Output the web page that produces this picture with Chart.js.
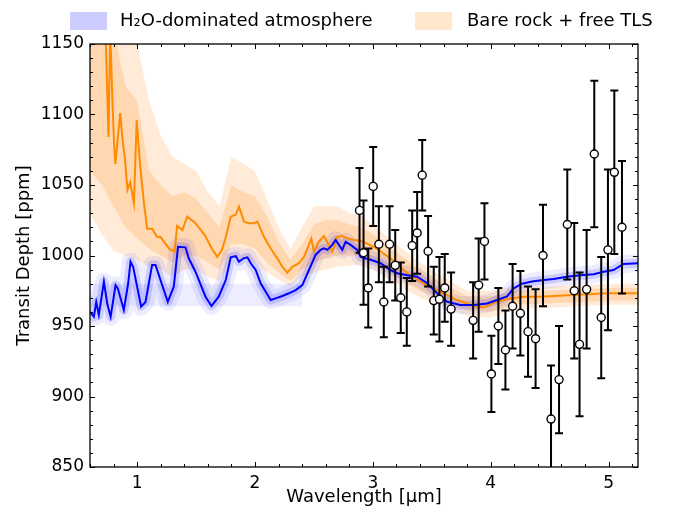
<!DOCTYPE html>
<html>
<head>
<meta charset="utf-8">
<script src="https://cdn.jsdelivr.net/npm/chart.js@4.4.1/dist/chart.umd.min.js"></script>
<style>
  body { margin: 0; background: #fff; }
</style>
</head>
<body>
<canvas id="chart" width="680" height="517"></canvas>
<script>
// observed transit depths [ppm] and 1-sigma errors
const obsWave = [2.887, 2.921, 2.961, 3.003, 3.051, 3.093, 3.142, 3.19, 3.237, 3.288,
  3.334, 3.376, 3.419, 3.469, 3.517, 3.565, 3.61, 3.664, 3.851, 3.898,
  3.947, 4.006, 4.065, 4.125, 4.186, 4.252, 4.317, 4.381, 4.444, 4.512,
  4.58, 4.65, 4.709, 4.754, 4.814, 4.879, 4.938, 4.995, 5.049, 5.114];
const obsDepth = [1032, 1002, 977, 1049, 1008, 967, 1008, 993, 970, 960,
  1007, 1016, 1057, 1003, 968, 969, 977, 962, 954, 979,
  1010, 916, 950, 933, 964, 959, 946, 941, 1000, 884,
  912, 1022, 975, 937, 976, 1072, 956, 1004, 1059, 1020];
const obsErr = [30, 37, 28, 28, 27, 25, 27, 25, 25, 24,
  25, 29, 25, 25, 24, 30, 24, 26, 27, 33,
  27, 27, 27, 28, 30, 30, 32, 35, 36, 38,
  38, 39, 48, 51, 42, 52, 43, 57, 58, 47];

// H2O-dominated atmosphere model
const blueWave = [0.6, 0.633, 0.653, 0.675, 0.718, 0.746, 0.775, 0.817, 0.836, 0.887,
  0.924, 0.944, 0.966, 1.0, 1.034, 1.071, 1.127, 1.156, 1.198, 1.26,
  1.311, 1.347, 1.41, 1.438, 1.495, 1.58, 1.631, 1.692, 1.752, 1.794,
  1.837, 1.864, 1.902, 1.936, 1.964, 2.006, 2.048, 2.091, 2.133, 2.175,
  2.232, 2.288, 2.345, 2.402, 2.458, 2.514, 2.557, 2.585, 2.614, 2.656,
  2.684, 2.712, 2.741, 2.769, 2.811, 2.868, 2.896, 2.981, 3.065, 3.15,
  3.207, 3.292, 3.376, 3.461, 3.546, 3.631, 3.743, 3.856, 3.969, 4.054,
  4.139, 4.195, 4.266, 4.351, 4.449, 4.534, 4.647, 4.76, 4.873, 4.958,
  5.042, 5.127, 5.25];
const blueDepth = [960, 956.6, 967, 957.8, 981.4, 966, 956.6, 979, 976.7, 961.3,
  980.3, 995.6, 992, 977.9, 963.7, 967, 993.3, 993.3, 982.6, 967.2,
  977.9, 1006.2, 1005.8, 998, 988.5, 970.8, 964.2, 970.8, 982.6, 998.7,
  999.6, 995.6, 998, 998.7, 994.5, 989.7, 980.3, 974.3, 968.4, 969.6,
  971.3, 973.2, 975.5, 979, 989.7, 1000.4, 1004, 1005.1, 1004, 1007.5,
  1011, 1007.5, 1004, 1009.8, 1007.5, 1004, 999, 997, 994.5, 989.7,
  987.4, 986, 985, 980.3, 973.2, 967.2, 964.9, 964.9, 966, 968.4,
  971, 976.7, 980, 981.5, 982.6, 983.4, 985, 986, 986.7, 988.5,
  989.7, 994, 994.5];
const blueFloorWave = [0.6, 2.4];
const blueFloorHi = [980, 980];
const blueFloorLo = [964, 964];

// bare rock + free TLS model
const orangeWave = [0.6, 0.7, 0.735, 0.757, 0.772, 0.79, 0.804, 0.815, 0.856, 0.876,
  0.895, 0.918, 0.941, 0.973, 0.996, 1.024, 1.058, 1.085, 1.127, 1.168,
  1.2, 1.225, 1.276, 1.318, 1.339, 1.383, 1.425, 1.489, 1.574, 1.633,
  1.68, 1.72, 1.752, 1.794, 1.837, 1.864, 1.907, 1.949, 1.992, 2.02,
  2.076, 2.133, 2.19, 2.232, 2.274, 2.317, 2.373, 2.415, 2.458, 2.478,
  2.5, 2.542, 2.585, 2.627, 2.656, 2.698, 2.741, 2.783, 2.839, 2.896,
  3.008, 3.15, 3.292, 3.432, 3.574, 3.715, 3.856, 3.941, 4.025, 4.139,
  4.28, 4.421, 4.703, 4.986, 5.25];
const orangeDepth = [1200, 1175, 1150, 1084, 1160, 1110, 1080, 1065, 1101, 1082,
  1070, 1046.5, 1052, 1037, 1096, 1065, 1037, 1019, 1019, 1013.3,
  1013, 1010, 1004.5, 1002.7, 1021, 1018, 1027.5, 1023.5, 1014.5, 1005,
  999, 1004, 1013, 1027.5, 1029, 1034.6, 1024, 1022.8, 1022.8, 1024,
  1013.3, 1005, 998, 992, 987.8, 992, 994.5, 999, 1007.5, 1012,
  1002.7, 1009.8, 1013.8, 1007.5, 1002.7, 1013.3, 1013.8, 1012.2, 1011, 1010.5,
  1006.2, 998, 987.4, 980.3, 974.3, 968.4, 964.4, 963.2, 966.5, 968.9,
  970.8, 970.8, 972, 973.2, 973.2];
const orangeBandWave = [0.6, 0.7, 0.8, 0.9, 1.0, 1.1, 1.2, 1.3, 1.4, 1.5,
  1.6, 1.7, 1.8, 1.9, 2.0, 2.1, 2.2, 2.3, 2.4, 2.5,
  2.6, 2.7, 2.8, 2.9, 3.0, 3.2, 3.4, 3.6, 3.8, 4.0,
  4.2, 4.5, 5.0, 5.25];
const orangeHi2 = [1200, 1200, 1200, 1170, 1150, 1110, 1085, 1070, 1065, 1060,
  1045, 1035, 1070, 1065, 1060, 1040, 1020, 1005, 1020, 1035,
  1035, 1035, 1030, 1028, 1022, 1008, 995, 985, 975, 975,
  978, 978, 980, 980];
const orangeHi1 = [1200, 1200, 1160, 1120, 1110, 1060, 1050, 1042, 1045, 1040,
  1030, 1020, 1050, 1045, 1042, 1028, 1010, 997, 1008, 1022,
  1025, 1025, 1022, 1020, 1015, 1002, 990, 980, 971, 971,
  975, 975, 977, 977];
const orangeLo1 = [1060, 1050, 1035, 1020, 1012, 1005, 1000, 995, 1000, 1000,
  995, 990, 1008, 1008, 1005, 995, 988, 982, 990, 995,
  998, 1000, 1000, 1000, 997, 985, 975, 968, 961, 960,
  965, 966, 968, 968];
const orangeLo2 = [1030, 1015, 1003, 1000, 997, 992, 990, 985, 990, 990,
  985, 982, 998, 998, 995, 988, 983, 978, 985, 988,
  990, 992, 993, 993, 990, 980, 970, 964, 957, 956,
  962, 963, 965, 965];

const xTicks = [1, 2, 3, 4, 5];
const yTicks = [850, 900, 950, 1000, 1050, 1100, 1150];

const FONT = 'DejaVu Sans';
const ORANGE = 'rgb(255,140,0)';
const BLUE = 'rgb(0,0,255)';

function pts(xs, ys) {
    return xs.map((v, i) => ({x: v, y: ys[i]}));
}

function band(xs, ys, fill, color) {
    return {
        data: pts(xs, ys), borderWidth: 0, pointRadius: 0,
        fill: fill, backgroundColor: color, tension: 0
    };
}

const errorBars = {
    id: 'errorBars',
    beforeDatasetDraw(chart, args) {
        if (args.index !== 0) return;
        const {ctx, chartArea: a, scales: {x, y}} = chart;
        ctx.save();
        ctx.beginPath();
        ctx.rect(a.left, a.top, a.right - a.left, a.bottom - a.top);
        ctx.clip();
        ctx.strokeStyle = '#000';
        ctx.lineWidth = 2;
        for (let i = 0; i < obsWave.length; i++) {
            const px = x.getPixelForValue(obsWave[i]);
            const top = y.getPixelForValue(obsDepth[i] + obsErr[i]);
            const bot = y.getPixelForValue(obsDepth[i] - obsErr[i]);
            ctx.beginPath();
            ctx.moveTo(px, top); ctx.lineTo(px, bot);
            ctx.moveTo(px - 4, top); ctx.lineTo(px + 4, top);
            ctx.moveTo(px - 4, bot); ctx.lineTo(px + 4, bot);
            ctx.stroke();
        }
        ctx.restore();
    }
};

const frameTicks = {
    id: 'frameTicks',
    afterDraw(chart) {
        const {ctx, chartArea: a, scales: {x, y}} = chart;
        ctx.save();
        ctx.strokeStyle = '#000';
        ctx.lineWidth = 1;
        ctx.beginPath();
        // x ticks, major every 1, minor every 0.2
        for (let k = 3; k <= 26; k++) {
            const v = k / 5;
            const len = (k % 5 === 0) ? 5 : 3;
            const px = Math.round(x.getPixelForValue(v)) + 0.5;
            ctx.moveTo(px, a.bottom); ctx.lineTo(px, a.bottom - len);
            ctx.moveTo(px, a.top); ctx.lineTo(px, a.top + len);
        }
        // y ticks, major every 50, minor every 10
        for (let v = 850; v <= 1150; v += 10) {
            const len = (v % 50 === 0) ? 5 : 3;
            const py = Math.round(y.getPixelForValue(v)) + 0.5;
            ctx.moveTo(a.left, py); ctx.lineTo(a.left + len, py);
            ctx.moveTo(a.right, py); ctx.lineTo(a.right - len, py);
        }
        ctx.stroke();
        ctx.lineWidth = 1.3;
        ctx.strokeRect(a.left, a.top, a.right - a.left, a.bottom - a.top);

        // legend
        ctx.font = '18px "' + FONT + '"';
        ctx.textBaseline = 'middle';
        ctx.fillStyle = 'rgba(0,0,255,0.2)';
        ctx.fillRect(70, 12, 37, 18);
        ctx.fillStyle = 'rgba(255,140,0,0.2)';
        ctx.fillRect(415, 12, 37, 18);
        ctx.fillStyle = '#000';
        ctx.fillText('H₂O-dominated atmosphere', 120, 21);
        ctx.fillText('Bare rock + free TLS', 467, 21);
        ctx.restore();
    }
};

const tickFont = {family: FONT, size: 17};
const labelFont = {family: FONT, size: 18};

new Chart(document.getElementById('chart'), {
    type: 'line',
    data: {
        datasets: [
            {
                data: pts(obsWave, obsDepth), showLine: false,
                pointRadius: 4, pointBorderWidth: 1.4,
                pointBackgroundColor: '#fff', pointBorderColor: '#000'
            },
            {data: pts(blueWave, blueDepth), borderColor: BLUE, borderWidth: 2, pointRadius: 0, tension: 0},
            {data: pts(orangeWave, orangeDepth), borderColor: ORANGE, borderWidth: 2, pointRadius: 0, tension: 0},
            {data: pts(blueWave, blueDepth), borderColor: 'rgba(0,0,255,0.14)', borderWidth: 9,
                borderJoinStyle: 'round', pointRadius: 0, tension: 0},
            {data: pts(blueWave, blueDepth), borderColor: 'rgba(0,0,255,0.07)', borderWidth: 18,
                borderJoinStyle: 'round', pointRadius: 0, tension: 0},
            band(blueFloorWave, blueFloorHi, '+1', 'rgba(0,0,255,0.07)'),
            band(blueFloorWave, blueFloorLo, false, 'transparent'),
            band(orangeBandWave, orangeHi1, '+1', 'rgba(255,150,50,0.24)'),
            band(orangeBandWave, orangeLo1, false, 'transparent'),
            band(orangeBandWave, orangeHi2, '+1', 'rgba(255,150,50,0.19)'),
            band(orangeBandWave, orangeLo2, false, 'transparent')
        ]
    },
    options: {
        responsive: false,
        animation: false,
        layout: {padding: {top: 44, right: 42, left: 0, bottom: 0}},
        plugins: {
            legend: {display: false},
            tooltip: {enabled: false},
            filler: {propagate: false}
        },
        scales: {
            x: {
                type: 'linear', min: 0.6, max: 5.25,
                afterBuildTicks: s => { s.ticks = xTicks.map(v => ({value: v})); },
                afterFit: s => { s.height = 50; },
                grid: {display: false, drawTicks: false},
                border: {display: false},
                ticks: {font: tickFont, color: '#000', padding: 6, maxRotation: 0, autoSkip: false,
                    callback: v => String(v)},
                title: {display: true, text: 'Wavelength [μm]', font: labelFont, color: '#000',
                    padding: {top: 0, bottom: 9}}
            },
            y: {
                type: 'linear', min: 850, max: 1150,
                afterBuildTicks: s => { s.ticks = yTicks.map(v => ({value: v})); },
                afterFit: s => { s.width = 90; },
                grid: {display: false, drawTicks: false},
                border: {display: false},
                ticks: {font: tickFont, color: '#000', padding: 6, autoSkip: false,
                    callback: v => String(v)},
                title: {display: true, text: 'Transit Depth [ppm]', font: labelFont, color: '#000',
                    padding: {top: 14, bottom: 0}}
            }
        }
    },
    plugins: [errorBars, frameTicks]
});
</script>
</body>
</html>
